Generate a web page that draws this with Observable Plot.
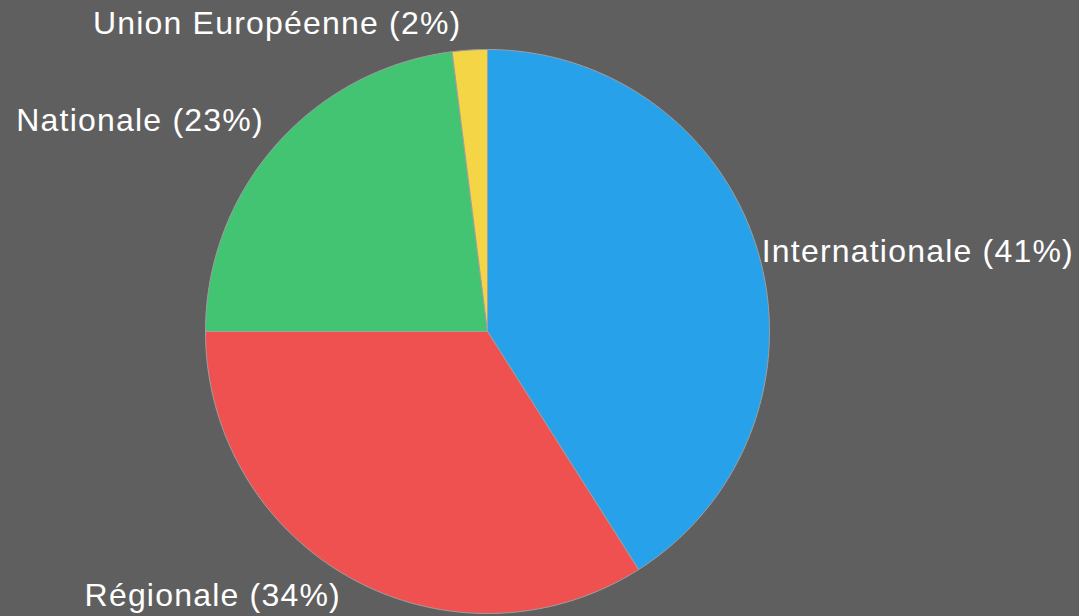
<!DOCTYPE html>
<html><head><meta charset="utf-8">
<script src="https://cdn.jsdelivr.net/npm/d3@7"></script>
<script src="https://cdn.jsdelivr.net/npm/@observablehq/plot@0.6"></script>
<style>
html,body{margin:0;padding:0;background:#5f5f5f;overflow:hidden}
#chart svg text{letter-spacing:1.2px}
</style>
</head><body><div id="chart"></div>
<script>
const categories = ["Internationale", "Régionale", "Nationale", "Union Européenne"];
const shares = [41, 34, 23, 2];
const colors = ["#27a1ea", "#ef5151", "#42c473", "#f4d546"];

const total = d3.sum(shares);
let acc = 0;
const slices = categories.map((c, i) => {
  const a0 = acc / total * 2 * Math.PI;
  acc += shares[i];
  const a1 = acc / total * 2 * Math.PI;
  return {c, v: shares[i], a0, a1, mid: (a0 + a1) / 2};
});

const pts = [];
for (const s of slices) {
  const n = Math.max(2, Math.ceil((s.a1 - s.a0) / (Math.PI / 360)));
  pts.push({c: s.c, x: 0, y: 0});
  for (let k = 0; k <= n; k++) {
    const a = s.a0 + (s.a1 - s.a0) * k / n;
    pts.push({c: s.c, x: Math.sin(a), y: Math.cos(a)});
  }
  pts.push({c: s.c, x: 0, y: 0});
}

const labelR = 1.02;
const labels = slices.map(s => {
  const sx = Math.sin(s.mid), cy = Math.cos(s.mid);
  return {
    text: `${s.c} (${s.v}%)`,
    x: labelR * sx, y: labelR * cy,
    ta: sx > 0.05 ? "start" : sx < -0.05 ? "end" : "middle",
    la: cy > 0.5 ? "bottom" : cy < -0.5 ? "top" : "middle"
  };
});
const groups = d3.groups(labels, d => d.ta + "|" + d.la);
const textMarks = groups.map(([key, rows]) => {
  const [ta, la] = key.split("|");
  return Plot.text(rows, {
    x: "x", y: "y", text: "text",
    textAnchor: ta, lineAnchor: la,
    dx: ta === "end" ? -8 : ta === "start" ? -2 : 0,
    dy: la === "bottom" ? -10 : 0,
    fill: "#ffffff", fontSize: 32
  });
});

const chart = Plot.plot({
  width: 1079, height: 616,
  marginLeft: 205, marginRight: 310, marginTop: 49, marginBottom: 3,
  x: {domain: [-1, 1], axis: null},
  y: {domain: [-1, 1], axis: null},
  color: {domain: categories, range: colors},
  style: {background: "#5f5f5f", fontFamily: "'Liberation Sans', Arial, sans-serif", overflow: "visible"},
  marks: [
    Plot.line(pts, {x: "x", y: "y", z: "c", fill: "c", stroke: "#a0a0a0", strokeWidth: 1, curve: "linear"}),
    ...textMarks
  ]
});
document.getElementById("chart").appendChild(chart);
</script>
</body></html>
